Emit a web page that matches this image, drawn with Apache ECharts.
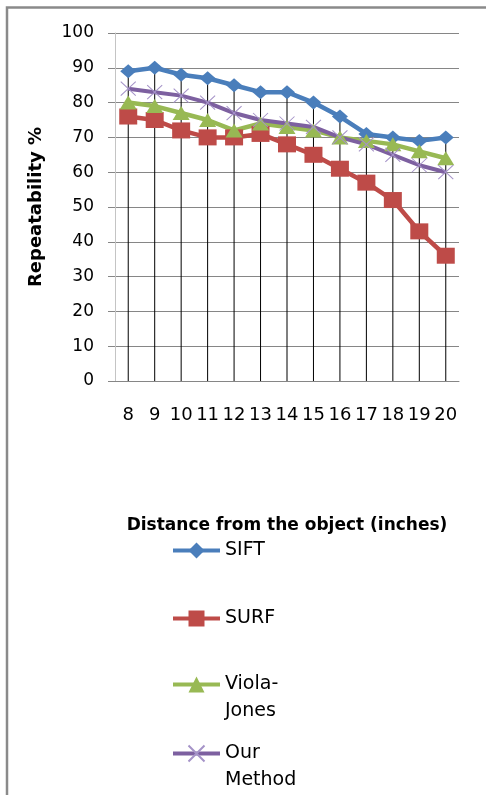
<!DOCTYPE html>
<html>
<head>
<meta charset="utf-8">
<script src="https://cdn.jsdelivr.net/npm/echarts@6/dist/echarts.min.js"></script>
<style>
html,body{margin:0;padding:0;background:#fff;}
#chart{width:486px;height:795px;}
</style>
</head>
<body>
<div id="chart"></div>
<script>
var categories = ['8','9','10','11','12','13','14','15','16','17','18','19','20'];
var sift = [89, 90, 88, 87, 85, 83, 83, 80, 76, 71, 70, 69, 70];
var surf = [76, 75, 72, 70, 70, 71, 68, 65, 61, 57, 52, 43, 36];
var violaJones = [80, 79, 77, 75, 72, 74, 73, 72, 70, 69, 68, 66, 64];
var ourMethod = [84, 83, 82, 80, 77, 75, 74, 73, 70, 68, 65, 62, 60];
var yTicks = [0, 10, 20, 30, 40, 50, 60, 70, 80, 90, 100];
var seriesNames = ['SIFT', 'SURF', 'Viola-Jones', 'Our Method'];

// drop lines reach from the highest point of each category down to the axis
var dropTops = categories.map(function (c, i) {
  return Math.max(sift[i], surf[i], violaJones[i], ourMethod[i]);
});

var FONT = 'DejaVu Sans';
var chart = echarts.init(document.getElementById('chart'), null, {renderer: 'canvas'});

function legendAt(name, top, text) {
  return {
    data: [name],
    orient: 'vertical',
    left: 171,
    top: top,
    padding: [5, 5, 5, 0],
    itemWidth: 47,
    itemHeight: 20,
    itemGap: 0,
    selectedMode: false,
    lineStyle: {width: 4},
    formatter: function () { return text; },
    textStyle: {fontFamily: FONT, fontSize: 19, color: '#000', lineHeight: 27}
  };
}

var option = {
  backgroundColor: '#fff',
  animation: false,
  graphic: [{
    type: 'rect',
    shape: {x: 7, y: 7.5, width: 700, height: 900},
    style: {fill: 'none', stroke: '#8a8a8a', lineWidth: 2.5},
    silent: true
  }],
  grid: {left: 115, right: 27, top: 33, bottom: 414, containLabel: false},
  legend: [
    legendAt('SIFT', 532, 'SIFT'),
    legendAt('SURF', 600, 'SURF'),
    legendAt('Viola-Jones', 639, '\nViola-\nJones'),
    legendAt('Our Method', 708, '\nOur\nMethod')
  ],
  xAxis: {
    type: 'category',
    data: categories,
    boundaryGap: true,
    axisLine: {lineStyle: {color: '#868686', width: 1}},
    axisTick: {show: false},
    axisLabel: {interval: 0, margin: 25, fontFamily: FONT, fontSize: 18, color: '#000'},
    splitLine: {show: false},
    name: 'Distance from the object (inches)',
    nameLocation: 'middle',
    nameGap: 136,
    nameTextStyle: {fontFamily: FONT, fontSize: 17, fontWeight: 'bold', color: '#000'}
  },
  yAxis: {
    type: 'value',
    min: yTicks[0],
    max: yTicks[yTicks.length - 1],
    interval: 10,
    axisLine: {show: true, lineStyle: {color: '#c4c4c4', width: 1}},
    axisTick: {show: true, length: 7, lineStyle: {color: '#868686'}},
    axisLabel: {margin: 21, fontFamily: FONT, fontSize: 17, color: '#000'},
    splitLine: {show: true, lineStyle: {color: '#868686', width: 1}},
    name: 'Repeatability %',
    nameLocation: 'middle',
    nameGap: 70,
    nameRotate: 90,
    nameTextStyle: {fontFamily: FONT, fontSize: 18, fontWeight: 'bold', color: '#000'}
  },
  series: [
    {
      name: 'drop',
      type: 'bar',
      data: dropTops,
      barWidth: 1,
      itemStyle: {color: '#000'},
      silent: true,
      z: 1
    },
    {
      name: seriesNames[0], type: 'line', data: sift,
      symbol: 'diamond', symbolSize: [16, 14],
      lineStyle: {color: '#4A7EBB', width: 4.5},
      itemStyle: {color: '#4A7EBB'}, z: 3
    },
    {
      name: seriesNames[1], type: 'line', data: surf,
      symbol: 'rect', symbolSize: [18, 16],
      lineStyle: {color: '#BE4B48', width: 4.5},
      itemStyle: {color: '#BE4B48'}, z: 3
    },
    {
      name: seriesNames[2], type: 'line', data: violaJones,
      symbol: 'triangle', symbolSize: [17, 14],
      lineStyle: {color: '#98B954', width: 4.5},
      itemStyle: {color: '#98B954'}, z: 3
    },
    {
      name: seriesNames[3], type: 'line', data: ourMethod,
      symbol: 'path://M0 0L10 10M10 0L0 10', symbolSize: [15, 14],
      lineStyle: {color: '#7D60A0', width: 4},
      itemStyle: {color: 'none', borderColor: '#A593C8', borderWidth: 1}, z: 3
    }
  ]
};
chart.setOption(option);
</script>
</body>
</html>
